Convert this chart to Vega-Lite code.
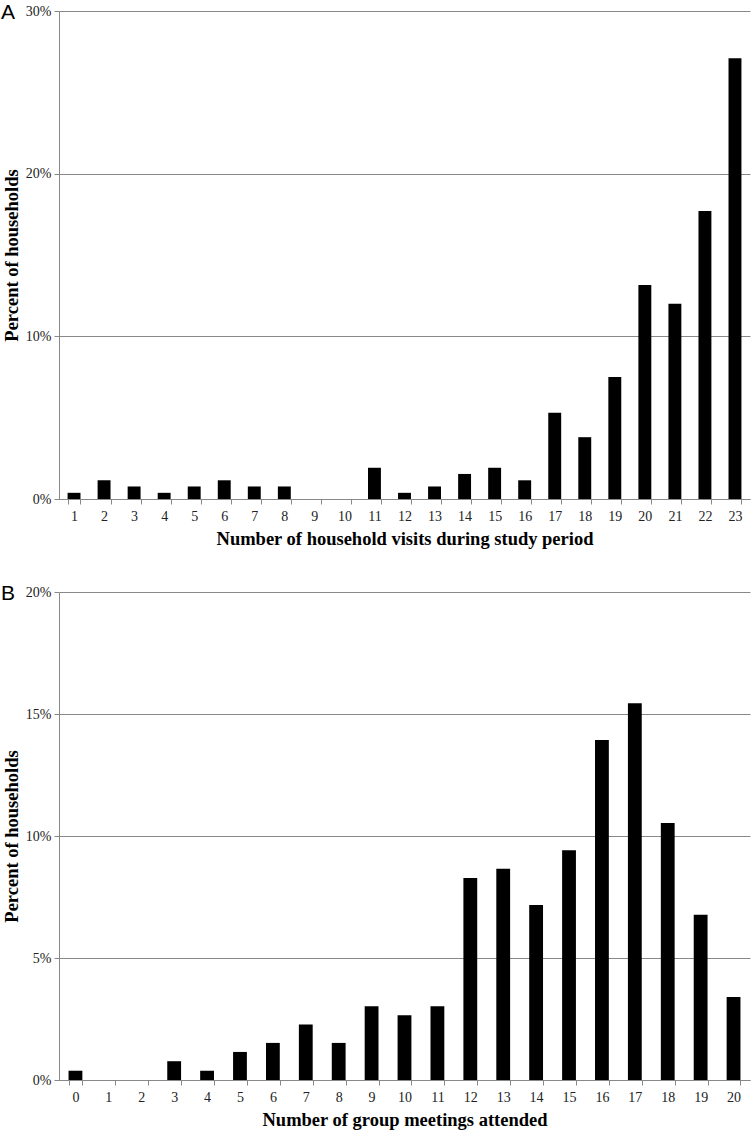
{
  "$schema": "https://vega.github.io/schema/vega-lite/v6.json",
  "padding": {"left": 1, "top": 2, "right": 2, "bottom": 2},
  "background": "white",
  "spacing": 35,
  "config": {
    "view": {"stroke": null},
    "font": "Liberation Serif",
    "axis": {
      "labelFont": "Liberation Serif",
      "titleFont": "Liberation Serif",
      "labelFontSize": 14,
      "titleFontSize": 18.5,
      "titleFontWeight": "bold",
      "labelColor": "#222",
      "titleColor": "#000",
      "domainColor": "#888",
      "tickColor": "#888",
      "gridColor": "#888",
      "gridWidth": 1,
      "domainWidth": 1
    },
    "title": {"font": "Liberation Sans", "fontSize": 21, "fontWeight": "normal", "color": "#000"}
  },
  "datasets": {
    "visits": [
      {"n": "1", "pct": 0.38}, {"n": "2", "pct": 1.15}, {"n": "3", "pct": 0.77}, {"n": "4", "pct": 0.38},
      {"n": "5", "pct": 0.77}, {"n": "6", "pct": 1.15}, {"n": "7", "pct": 0.77}, {"n": "8", "pct": 0.77},
      {"n": "9", "pct": 0}, {"n": "10", "pct": 0}, {"n": "11", "pct": 1.92}, {"n": "12", "pct": 0.38},
      {"n": "13", "pct": 0.77}, {"n": "14", "pct": 1.54}, {"n": "15", "pct": 1.92}, {"n": "16", "pct": 1.15},
      {"n": "17", "pct": 5.3}, {"n": "18", "pct": 3.8}, {"n": "19", "pct": 7.5}, {"n": "20", "pct": 13.15},
      {"n": "21", "pct": 12.0}, {"n": "22", "pct": 17.7}, {"n": "23", "pct": 27.1}
    ],
    "meetings": [
      {"n": "0", "pct": 0.38}, {"n": "1", "pct": 0}, {"n": "2", "pct": 0}, {"n": "3", "pct": 0.77},
      {"n": "4", "pct": 0.38}, {"n": "5", "pct": 1.15}, {"n": "6", "pct": 1.52}, {"n": "7", "pct": 2.27},
      {"n": "8", "pct": 1.52}, {"n": "9", "pct": 3.02}, {"n": "10", "pct": 2.65}, {"n": "11", "pct": 3.02},
      {"n": "12", "pct": 8.28}, {"n": "13", "pct": 8.66}, {"n": "14", "pct": 7.17}, {"n": "15", "pct": 9.42},
      {"n": "16", "pct": 13.93}, {"n": "17", "pct": 15.44}, {"n": "18", "pct": 10.53}, {"n": "19", "pct": 6.77},
      {"n": "20", "pct": 3.4}
    ]
  },
  "vconcat": [
    {
      "title": {"text": "A", "anchor": "start", "frame": "group", "orient": "top", "baseline": "middle", "offset": -30, "dx": -58, "dy": 0},
      "width": 691,
      "height": 488,
      "data": {"name": "visits"},
      "mark": {"type": "bar", "color": "#000"},
      "encoding": {
        "x": {
          "field": "n", "type": "ordinal", "sort": null,
          "scale": {"paddingInner": 0.57, "paddingOuter": 0.285},
          "axis": {"title": "Number of household visits during study period", "labelAngle": 0, "tickBand": "extent", "tickSize": 5, "labelPadding": 5, "titlePadding": 6}
        },
        "y": {
          "field": "pct", "type": "quantitative",
          "scale": {"domain": [0, 30], "nice": false},
          "axis": {"title": "Percent of households", "values": [0, 10, 20, 30], "labelExpr": "datum.value + '%'", "tickSize": 5, "labelPadding": 3, "titlePadding": 4, "grid": true}
        }
      }
    },
    {
      "title": {"text": "B", "anchor": "start", "frame": "group", "orient": "top", "baseline": "middle", "offset": -30, "dx": -58, "dy": 0},
      "width": 691,
      "height": 488,
      "data": {"name": "meetings"},
      "mark": {"type": "bar", "color": "#000"},
      "encoding": {
        "x": {
          "field": "n", "type": "ordinal", "sort": null,
          "scale": {"paddingInner": 0.58, "paddingOuter": 0.29},
          "axis": {"title": "Number of group meetings attended", "labelAngle": 0, "tickBand": "extent", "tickSize": 5, "labelPadding": 5, "titlePadding": 6}
        },
        "y": {
          "field": "pct", "type": "quantitative",
          "scale": {"domain": [0, 20], "nice": false},
          "axis": {"title": "Percent of households", "values": [0, 5, 10, 15, 20], "labelExpr": "datum.value + '%'", "tickSize": 5, "labelPadding": 3, "titlePadding": 4, "grid": true}
        }
      }
    }
  ]
}
